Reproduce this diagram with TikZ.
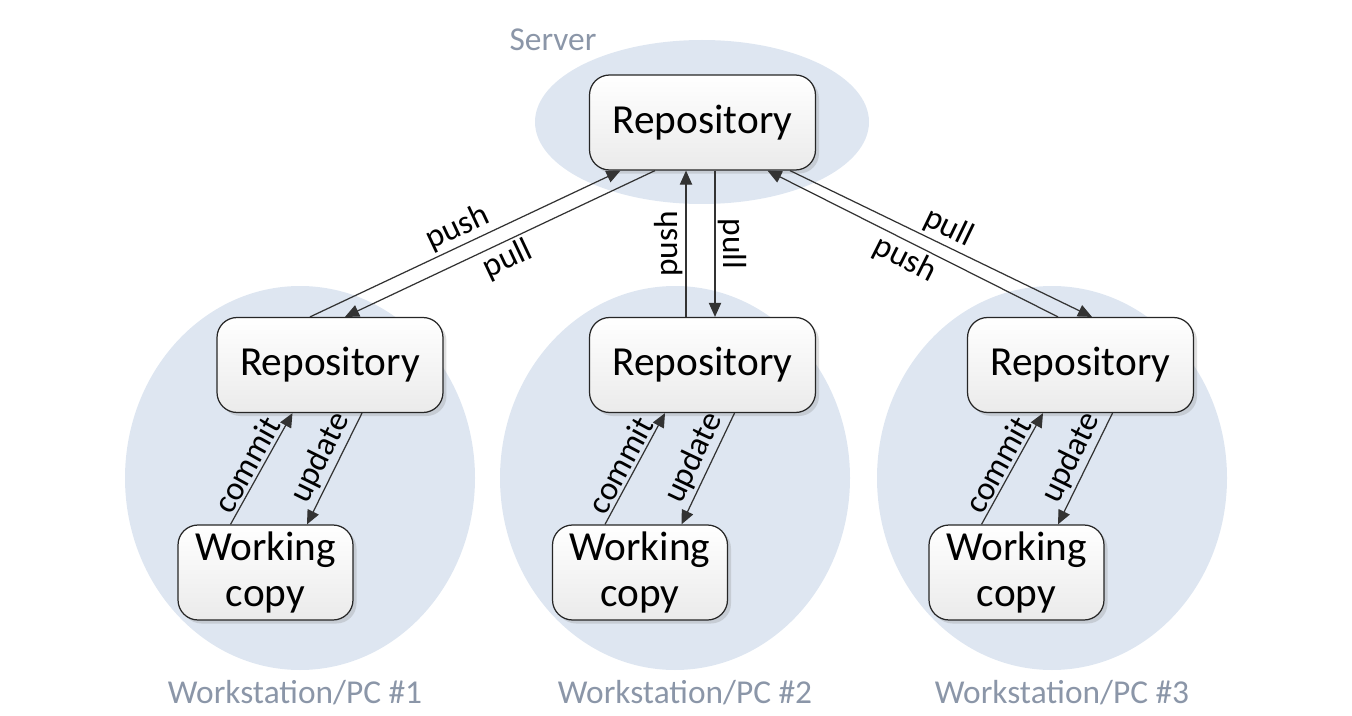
\documentclass[tikz,border=0pt]{standalone}
\usepackage{fontspec}
\setmainfont{Carlito}
\usetikzlibrary{arrows.meta,shadows}
\definecolor{cloudfill}{RGB}{222,230,241}
\definecolor{pclabel}{RGB}{139,150,168}
\newcommand{\boxfont}{\fontsize{23.5}{26}\selectfont}
\newcommand{\edgefont}{\fontsize{19}{21}\selectfont}
\tikzset{
	store/.style={draw=black!85, line width=0.7pt, rounded corners=0.4cm, top color=white, bottom color=black!8,
		drop shadow={opacity=0.25, shadow xshift=2pt, shadow yshift=-2pt},
		minimum width=4.52cm, minimum height=1.9cm, align=center, font=\boxfont},
	copybox/.style={store, minimum width=3.5cm, inner sep=1pt},
	flow/.style={draw=black!80, line width=0.7pt, -{Triangle[length=8pt,width=7pt]}},
	tag/.style={font=\edgefont, sloped, inner sep=1.5pt},
	pc/.style={text=pclabel, font=\fontsize{19}{21}\selectfont}
}

\begin{document}
\begin{tikzpicture}[x=0.02cm, y=-0.02cm]
	\useasboundingbox (0,0) rectangle (1352,716);
	
	% clouds
	\fill[cloudfill] (702,122) ellipse [x radius=167, y radius=82];
	\foreach \i/\e in {1/300,2/675,3/1052}
	{
		\fill[cloudfill] (\e,478) ellipse [x radius=175, y radius=192];
	}
	
	\node[pc] (srvname) at (553,40) {Server};
	\node[store] (server) at (702.5,122.5) {Repository};
	
	\foreach \i/\x/\w/\l in {1/330/265.5/295,2/702.5/640/685,3/1080.5/1016.5/1062}
	{
		\node[store] (repo\i) at (\x,365) {Repository};
		\node[copybox] (wc\i) at (\w,572.5) {Working\\copy};
		\node[pc] (pc\i) at (\l,693) {Workstation/PC \#\i};
		\draw[flow] ([xshift=-0.7cm]wc\i.north) -- node[tag, above, pos=0.47] {commit} ([xshift=-0.75cm]repo\i.south);
		\draw[flow] ([xshift=0.64cm]repo\i.south) -- node[tag, above, pos=0.47] {update} ([xshift=0.83cm]wc\i.north);
	}
	
	% push / pull
	\draw[flow] ([xshift=-0.4cm]repo1.north) -- node[tag, above] {push} ([xshift=-1.64cm]server.south);
	\draw[flow] ([xshift=-0.95cm]server.south) -- node[tag, below] {pull} ([xshift=0.3cm]repo1.north);
	\draw[flow] ([xshift=-0.33cm]repo2.north) -- node[tag, above] {push} ([xshift=-0.33cm]server.south);
	\draw[flow] ([xshift=0.25cm]server.south) -- node[tag, above] {pull} ([xshift=0.25cm]repo2.north);
	\draw[flow] ([xshift=1.75cm]server.south) -- node[tag, above] {pull} ([xshift=0.23cm]repo3.north);
	\draw[flow] ([xshift=-0.45cm]repo3.north) -- node[tag, below] {push} ([xshift=1.3cm]server.south);
	
\end{tikzpicture}
\end{document}
